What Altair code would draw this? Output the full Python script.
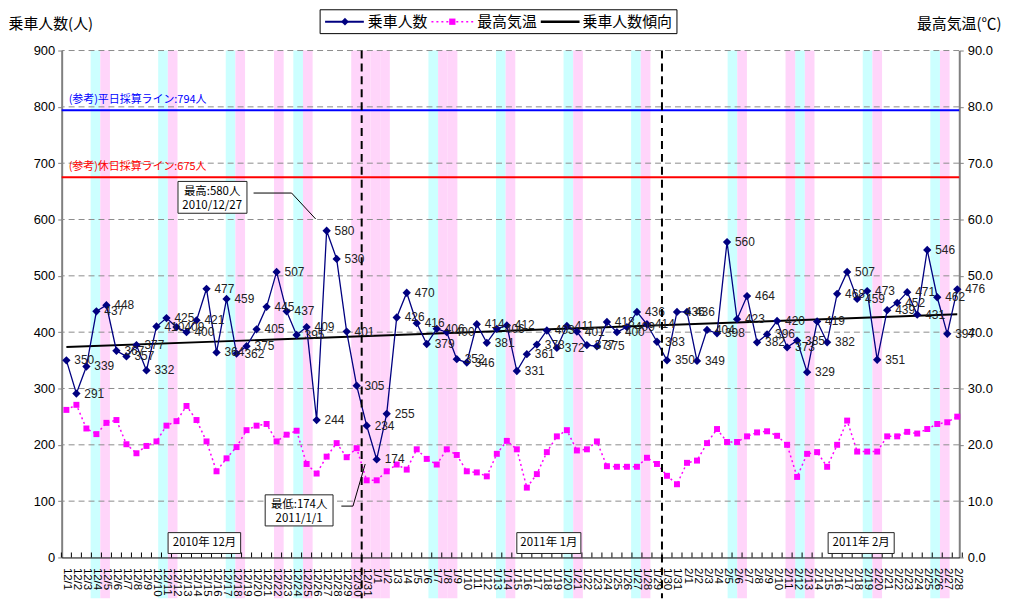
import altair as alt
import pandas as pd

# ---------------- data ----------------
dates = ([f"12/{d}" for d in range(1, 32)] + [f"1/{d}" for d in range(1, 32)]
         + [f"2/{d}" for d in range(1, 29)])

riders = [350, 291, 339, 437, 448, 367, 357, 377, 332, 410, 425, 409, 400, 421, 477, 364,
          459, 362, 375, 405, 445, 507, 437, 395, 409, 244, 580, 530, 401, 305, 234,
          174, 255, 426, 470, 416, 379, 406, 400, 352, 346, 414, 381, 406, 412, 331, 361,
          378, 403, 372, 411, 401, 377, 375, 418, 400, 409, 436, 414, 383, 350, 436,
          436, 349, 404, 398, 560, 423, 464, 382, 396, 420, 373, 385, 329, 419, 382, 468,
          507, 459, 473, 351, 439, 452, 471, 431, 546, 462, 397, 476]

temps = [26.2, 27.1, 22.9, 21.9, 23.9, 24.4, 20.1, 18.5, 19.8, 20.6, 23.4, 24.2, 26.9, 24.4,
         20.6, 15.3, 17.6, 19.6, 22.6, 23.4, 23.7, 20.6, 21.8, 22.5, 16.6, 14.9, 17.9, 20.3,
         17.8, 19.4, 13.7,
         13.7, 15.3, 16.5, 15.6, 19.2, 17.5, 16.5, 19.2, 18.2, 15.3, 15.1, 14.4, 18.4, 20.7,
         19.2, 12.4, 14.8, 18.7, 21.5, 22.6, 19.0, 19.2, 20.6, 16.2, 16.1, 16.1, 16.1, 17.7,
         16.6, 14.5, 13.0,
         16.8, 17.2, 20.3, 22.8, 20.5, 20.5, 21.5, 22.2, 22.4, 21.6, 20.0, 14.3, 18.4, 18.7,
         16.1, 20.0, 24.3, 18.8, 18.8, 18.8, 21.5, 21.5, 22.3, 22.0, 22.8, 23.7, 24.0, 25.0]

# background bands on the secondary (93-slot) category axis
N_SLOTS = 93
sat_slots = [3, 10, 17, 24, 38, 45, 52, 59, 69, 76, 83, 90]
hol_slots = [4, 11, 18, 22, 25, 30, 31, 32, 33, 39, 40, 46, 53, 60, 70, 75, 77, 84, 91]

ref_values = [794, 675]
ref_labels = ["(参考)平日採算ライン:794人", "(参考)休日採算ライン:675人"]
ref_colors = ["#0000FF", "#FF0000"]

period_breaks = [29.5, 59.5]
grid_values = [100, 200, 300, 400, 500, 600, 700, 800, 900]

month_labels = ["2010年 12月", "2011年 1月", "2011年 2月"]

# ---------------- build ----------------
W, H = 903, 510
N = len(riders)
df = pd.DataFrame({"day": list(range(N)), "date": dates, "riders": riders, "temp": temps})

xs = alt.Scale(domain=[-0.47, 89.2], nice=False, zero=False)
ys = alt.Scale(domain=[0, 900], nice=False, zero=True)
ts = alt.Scale(domain=[0, 90], nice=False, zero=True)

FONT = "Liberation Sans"
JP = "Noto Sans CJK JP"

label_expr = "[" + ",".join(f"'{d}'" for d in dates) + "][datum.value]"

x_axis = alt.Axis(values=list(range(N)), labelExpr=label_expr, labelAngle=90,
                  labelAlign="left", labelBaseline="middle", labelPadding=10,
                  labelFontSize=11.5, labelFont=FONT, labelColor="black",
                  ticks=False, grid=False, domainColor="black", domainWidth=1,
                  labelOverlap=False, labelFlush=False, labelSeparation=0,
                  labelBound=False, zindex=1, title=None)

y_axis = alt.Axis(values=list(range(0, 901, 100)), format="d", labelFontSize=13,
                  labelFont=FONT, labelColor="black", tickSize=4, tickColor="#808080",
                  labelPadding=3, domainColor="#808080", domainWidth=2, grid=False,
                  title="乗車人数(人)", titleAngle=0, titleX=-54, titleY=-27,
                  titleAlign="left", titleBaseline="middle", titleFontSize=15,
                  titleFont=JP, titleFontWeight="normal", titleColor="black")

t_axis = alt.Axis(orient="right", values=list(range(0, 91, 10)), format=".1f",
                  labelFontSize=13, labelFont=FONT, labelColor="black", tickSize=4,
                  tickColor="#808080", labelPadding=4, domainColor="#808080", domainWidth=2,
                  grid=False, title="最高気温(℃)", titleAngle=0, titleX=42, titleY=-27,
                  titleAlign="right", titleBaseline="middle", titleFontSize=15,
                  titleFont=JP, titleFontWeight="normal", titleColor="black")

# bands
bands_df = pd.DataFrame({"slot": sat_slots + hol_slots,
                         "kind": ["sat"] * len(sat_slots) + ["hol"] * len(hol_slots)})
bands_df["slot_end"] = bands_df["slot"] + 1
bands = alt.Chart(bands_df).mark_rect().encode(
    x=alt.X("slot:Q", scale=alt.Scale(domain=[0, N_SLOTS], nice=False, zero=False), axis=None),
    x2="slot_end:Q",
    y=alt.value(0), y2=alt.value(551),
    color=alt.Color("kind:N", scale=alt.Scale(domain=["sat", "hol"],
                                              range=["#CCFFFF", "#FFD5FA"]), legend=None),
)

# grid
grid = alt.Chart(pd.DataFrame({"g": grid_values})).mark_rule(
    color="#8c8c8c", strokeDash=[6, 4], strokeWidth=1
).encode(y=alt.Y("g:Q", scale=ys, axis=None))

# temperature
tbase = alt.Chart(df)
tline = tbase.mark_line(color="#FF00FF", strokeWidth=1.5, strokeDash=[2, 3]).encode(
    x=alt.X("day:Q", scale=xs, axis=None),
    y=alt.Y("temp:Q", scale=ts, axis=t_axis))
tpts = tbase.mark_point(shape="square", filled=True, size=36, color="#FF00FF", opacity=1).encode(
    x=alt.X("day:Q", scale=xs, axis=None),
    y=alt.Y("temp:Q", scale=ts, axis=t_axis))
temp_layer = alt.layer(tline, tpts)

# main
ref_df = pd.DataFrame({"v": ref_values, "label": ref_labels, "c": ref_colors})
refs = alt.Chart(ref_df).mark_rule(strokeWidth=2).encode(
    y=alt.Y("v:Q", scale=ys, axis=y_axis), color=alt.Color("c:N", scale=None))
ref_text = alt.Chart(ref_df).mark_text(align="left", baseline="middle", dy=-10,
                                        fontSize=11, font=JP).encode(
    x=alt.value(7), y=alt.Y("v:Q", scale=ys), text="label:N",
    color=alt.Color("c:N", scale=None))

tick_df = pd.DataFrame({"t": [i - 0.5 for i in range(N + 1)]})
ticks = alt.Chart(tick_df).mark_rule(color="black", strokeWidth=1).encode(
    x=alt.X("t:Q", scale=xs, axis=x_axis), y=alt.value(H), y2=alt.value(H - 5))

breaks = alt.Chart(pd.DataFrame({"b": period_breaks})).mark_rule(
    color="black", strokeWidth=2, strokeDash=[8, 5]).encode(
    x=alt.X("b:Q", scale=xs, axis=x_axis), y=alt.value(0), y2=alt.value(551))

base = alt.Chart(df)
trend = base.transform_regression("day", "riders").mark_line(
    color="black", strokeWidth=2).encode(
    x=alt.X("day:Q", scale=xs, axis=x_axis), y=alt.Y("riders:Q", scale=ys))
line = base.mark_line(color="#000080", strokeWidth=1.3).encode(
    x=alt.X("day:Q", scale=xs, axis=x_axis), y=alt.Y("riders:Q", scale=ys))
pts = base.mark_point(shape="diamond", filled=True, size=70, color="#000080", opacity=1).encode(
    x=alt.X("day:Q", scale=xs, axis=x_axis), y=alt.Y("riders:Q", scale=ys))
lbls = base.mark_text(align="left", baseline="middle", dx=8, fontSize=12, font=FONT,
                      color="#222222").encode(
    x=alt.X("day:Q", scale=xs, axis=x_axis), y=alt.Y("riders:Q", scale=ys), text="riders:Q")

# annotations (callouts + month boxes)
box_df = pd.DataFrame({"x1": [11.15, 19.86, 10.16, 45.0, 76.1],
                       "x2": [18.04, 26.64, 17.41, 51.4, 82.7],
                       "y1": [611.1, 56.0, 7.1, 7.1, 7.1],
                       "y2": [667.6, 111.2, 44.1, 44.1, 44.1]})
boxes = alt.Chart(box_df).mark_rect(fill="white", stroke="#222222", strokeWidth=1).encode(
    x=alt.X("x1:Q", scale=xs, axis=x_axis), x2="x2:Q", y=alt.Y("y1:Q", scale=ys), y2="y2:Q")

max_i = riders.index(max(riders))
min_i = riders.index(min(riders))
txt_df = pd.DataFrame({
    "x": [14.56, 14.56, 23.25, 23.25, 13.8, 48.2, 79.4],
    "y": [648, 624.7, 93.5, 68.8, 25.6, 25.6, 25.6],
    "t": [f"最高:{riders[max_i]}人", "2010/" + dates[max_i],
          f"最低:{riders[min_i]}人", "2011/" + dates[min_i]] + month_labels,
})
ann_text = alt.Chart(txt_df).mark_text(align="center", baseline="middle", fontSize=11.5,
                                        font=JP, color="black").encode(
    x=alt.X("x:Q", scale=xs, axis=x_axis), y=alt.Y("y:Q", scale=ys), text="t:N")

lead_df = pd.DataFrame({
    "x": [18.7, 22.5, 24.9, 27.47, 28.63, 29.85],
    "y": [647, 647, 601, 91.2, 91.2, 165.9],
    "g": ["a", "a", "a", "b", "b", "b"],
    "o": [0, 1, 2, 0, 1, 2],
})
leaders = alt.Chart(lead_df).mark_line(color="black", strokeWidth=1).encode(
    x=alt.X("x:Q", scale=xs, axis=x_axis), y=alt.Y("y:Q", scale=ys), detail="g:N",
    order="o:Q")

main = alt.layer(ticks, refs, ref_text, trend, leaders, line, pts, lbls, breaks,
                 boxes, ann_text)

# legend (drawn manually above the plot)
one = pd.DataFrame({"k": [0]})
LY = -29
leg = alt.layer(
    alt.Chart(one).mark_rect(fill="white", stroke="black", strokeWidth=1).encode(
        x=alt.value(260), x2=alt.value(619), y=alt.value(-41), y2=alt.value(-17)),
    alt.Chart(one).mark_rule(color="#000080", strokeWidth=2).encode(
        x=alt.value(265), x2=alt.value(304), y=alt.value(LY)),
    alt.Chart(one).mark_point(shape="diamond", filled=True, size=60, color="#000080",
                              opacity=1).encode(x=alt.value(285), y=alt.value(LY)),
    alt.Chart(one).mark_text(align="left", baseline="middle", fontSize=15, font=JP).encode(
        x=alt.value(308), y=alt.value(LY), text=alt.value("乗車人数")),
    alt.Chart(one).mark_rule(color="#FF00FF", strokeWidth=1.5, strokeDash=[2, 3]).encode(
        x=alt.value(372), x2=alt.value(414), y=alt.value(LY)),
    alt.Chart(one).mark_point(shape="square", filled=True, size=40, color="#FF00FF",
                              opacity=1).encode(x=alt.value(393), y=alt.value(LY)),
    alt.Chart(one).mark_text(align="left", baseline="middle", fontSize=15, font=JP).encode(
        x=alt.value(418), y=alt.value(LY), text=alt.value("最高気温")),
    alt.Chart(one).mark_rule(color="black", strokeWidth=2.5).encode(
        x=alt.value(482), x2=alt.value(521), y=alt.value(LY)),
    alt.Chart(one).mark_text(align="left", baseline="middle", fontSize=15, font=JP).encode(
        x=alt.value(524), y=alt.value(LY), text=alt.value("乗車人数傾向")),
)

chart = alt.layer(bands, grid, temp_layer, main, leg).resolve_scale(
    x="independent", y="independent", color="independent"
).properties(
    width=W, height=H,
    padding={"left": 54, "top": 41, "right": 44, "bottom": 41},
    autosize=alt.AutoSizeParams(type="none"),
    background="white",
).configure_view(stroke=None).configure_axisX(labelOverlap=False)

chart.save("out.html", embed_options={"renderer": "svg", "actions": False})
